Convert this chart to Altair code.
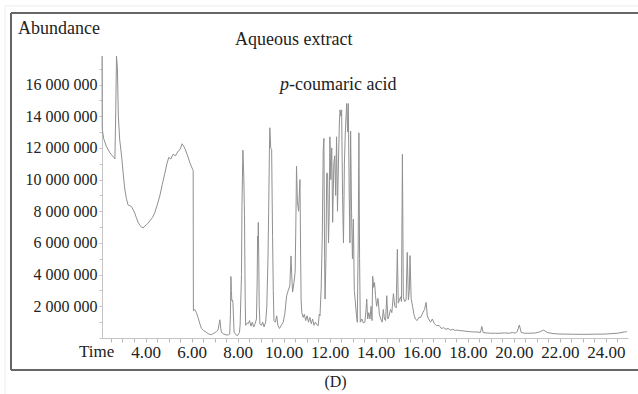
import altair as alt
import pandas as pd

# Retention time (min) and abundance (millions)
times = [2.11, 2.12, 2.18, 2.30, 2.45, 2.62, 2.67, 2.71, 2.74, 2.78, 2.82, 2.88, 2.96, 3.03, 3.10, 3.17,
         3.24, 3.32, 3.39, 3.46, 3.53, 3.60, 3.68, 3.76, 3.83, 3.90, 3.97, 4.08, 4.19, 4.30, 4.40, 4.51,
         4.62, 4.73, 4.84, 4.93, 5.01, 5.10, 5.20, 5.30, 5.42, 5.50, 5.59, 5.66, 5.73, 5.83, 5.93, 6.00,
         6.07, 6.08, 6.14, 6.21, 6.28, 6.36, 6.43, 6.54, 6.64, 6.75, 6.86, 6.97, 7.08, 7.15, 7.23, 7.27,
         7.30, 7.40, 7.51, 7.60, 7.66, 7.69, 7.71, 7.73, 7.75, 7.78, 7.80, 7.83, 7.85, 7.93, 8.00, 8.08,
         8.11, 8.17, 8.19, 8.23, 8.26, 8.27, 8.29, 8.30, 8.33, 8.35, 8.42, 8.46, 8.52, 8.58, 8.64, 8.70,
         8.76, 8.82, 8.85, 8.87, 8.89, 8.90, 8.92, 8.94, 8.97, 9.03, 9.09, 9.15, 9.22, 9.27, 9.32, 9.35,
         9.38, 9.40, 9.44, 9.48, 9.50, 9.52, 9.55, 9.58, 9.64, 9.70, 9.75, 9.82, 9.90, 9.98, 10.05, 10.13,
         10.20, 10.27, 10.32, 10.35, 10.39, 10.45, 10.50, 10.53, 10.56, 10.60, 10.65, 10.68, 10.71, 10.74,
         10.76, 10.79, 10.85, 10.90, 10.96, 11.02, 11.08, 11.14, 11.20, 11.26, 11.32, 11.38, 11.44, 11.50,
         11.55, 11.58, 11.63, 11.68, 11.72, 11.75, 11.78, 11.80, 11.84, 11.87, 11.91, 11.95, 11.98, 12.01,
         12.05, 12.09, 12.13, 12.18, 12.22, 12.26, 12.30, 12.34, 12.38, 12.42, 12.45, 12.49, 12.52, 12.56,
         12.60, 12.64, 12.68, 12.74, 12.78, 12.81, 12.85, 12.88, 12.91, 12.95, 12.99, 13.03, 13.07, 13.12,
         13.16, 13.20, 13.24, 13.27, 13.30, 13.33, 13.40, 13.46, 13.53, 13.58, 13.61, 13.65, 13.70, 13.75,
         13.80, 13.84, 13.87, 13.91, 13.95, 13.99, 14.04, 14.10, 14.16, 14.22, 14.28, 14.33, 14.38, 14.43,
         14.48, 14.53, 14.58, 14.64, 14.70, 14.77, 14.83, 14.89, 14.94, 14.98, 15.03, 15.08, 15.12, 15.16,
         15.20, 15.26, 15.32, 15.37, 15.42, 15.46, 15.49, 15.54, 15.60, 15.66, 15.72, 15.80, 15.88, 15.95,
         16.05, 16.12, 16.19, 16.24, 16.30, 16.38, 16.46, 16.55, 16.65, 16.75, 16.85, 16.95, 17.05, 17.15,
         17.25, 17.35, 17.45, 17.55, 17.67, 17.80, 17.95, 18.10, 18.25, 18.40, 18.55, 18.61, 18.67, 18.80,
         19.00, 19.20, 19.40, 19.60, 19.80, 19.95, 20.05, 20.15, 20.24, 20.32, 20.45, 20.70, 20.95, 21.15,
         21.29, 21.45, 21.70, 22.00, 22.50, 23.00, 23.50, 24.00, 24.50, 24.80, 24.91]

abundance_m = [17.8, 13.2, 12.6, 12.1, 11.7, 11.4, 11.3, 14.5, 17.8, 17.0, 14.0, 12.5, 11.5, 10.4, 9.4, 8.8,
               8.4, 8.35, 8.3, 8.1, 7.9, 7.6, 7.3, 7.1, 7.0, 6.95, 7.07, 7.2, 7.4, 7.6, 7.9, 8.4,
               8.96, 9.7, 10.4, 11.0, 11.4, 11.3, 11.6, 11.5, 11.8, 11.9, 12.26, 12.1, 11.9, 11.5, 11.06, 10.8,
               10.58, 1.72, 1.8, 1.6, 1.3, 0.9, 0.61, 0.45, 0.36, 0.25, 0.21, 0.3, 0.4, 0.5, 1.15, 0.6,
               0.36, 0.25, 0.19, 0.2, 0.25, 1.5, 3.88, 3.0, 2.35, 2.4, 2.2, 1.0, 0.36, 0.2, 0.15, 0.35,
               0.8, 4.0, 8.3, 11.86, 10.6, 10.2, 8.5, 7.8, 2.5, 0.8, 0.95, 0.9, 1.1, 0.75, 1.0, 0.7,
               0.9, 1.2, 3.5, 6.44, 6.0, 7.3, 5.0, 2.0, 0.9, 0.8, 1.0, 0.7, 1.0, 2.0, 5.0, 8.0,
               11.5, 13.27, 12.0, 11.9, 9.0, 6.4, 3.0, 1.1, 1.0, 1.4, 0.8, 0.6, 0.8, 1.0, 1.5, 2.66,
               3.0, 3.3, 5.18, 4.0, 2.9, 3.5, 4.15, 7.0, 10.85, 8.6, 8.0, 9.0, 10.0, 5.0,
               2.4, 1.6, 1.3, 1.5, 1.1, 1.4, 1.0, 1.3, 0.9, 1.2, 0.8, 1.0, 0.85, 0.77,
               1.5, 1.4, 3.1, 6.5, 11.9, 12.6, 5.0, 2.46, 5.0, 10.4, 10.4, 6.0, 8.0, 12.7,
               10.0, 12.0, 7.3, 11.0, 11.5, 9.0, 12.7, 8.0, 11.0, 13.5, 14.4, 14.0, 14.4, 9.0,
               6.0, 11.0, 13.0, 14.8, 13.0, 14.8, 9.0, 6.0, 13.06, 8.0, 5.0, 7.5, 3.0, 2.2,
               1.5, 0.99, 6.0, 12.95, 5.0, 1.0, 1.2, 0.95, 1.0, 1.8, 2.46, 1.2, 1.6, 1.2,
               2.0, 1.1, 3.9, 3.2, 3.5, 2.7, 2.0, 2.5, 1.5, 1.2, 1.0, 1.8, 1.2, 1.1,
               2.67, 1.2, 1.4, 1.8, 1.6, 2.8, 2.0, 1.9, 5.6, 2.2, 2.4, 2.6, 2.3, 11.6,
               2.6, 2.3, 2.4, 5.4, 2.4, 3.0, 5.2, 2.5, 2.0, 1.5, 1.2, 1.1, 1.3, 1.3,
               1.6, 1.8, 2.25, 1.4, 1.2, 1.0, 1.2, 0.9, 0.78, 0.8, 0.6, 0.65, 0.55, 0.6,
               0.5, 0.55, 0.48, 0.5, 0.46, 0.45, 0.42, 0.4, 0.38, 0.38, 0.35, 0.73, 0.35, 0.32,
               0.3, 0.3, 0.3, 0.32, 0.3, 0.35, 0.3, 0.4, 0.82, 0.35, 0.3, 0.3, 0.32, 0.4,
               0.5, 0.35, 0.28, 0.25, 0.24, 0.23, 0.24, 0.25, 0.3, 0.38, 0.4]

x_tick_values = [2.5, 3.0, 3.5, 4.0, 4.5, 5.0, 5.5, 6.0, 6.5, 7.0, 7.5, 8.0, 8.5, 9.0, 9.5, 10.0, 10.5,
                 11.0, 11.5, 12.0, 12.5, 13.0, 13.5, 14.0, 14.5, 15.0, 15.5, 16.0, 16.5, 17.0, 17.5,
                 18.0, 18.5, 19.0, 19.5, 20.0, 20.5, 21.0, 21.5, 22.0, 22.5, 23.0, 23.5, 24.0, 24.5]
y_tick_values = [0, 1e6, 2e6, 3e6, 4e6, 5e6, 6e6, 7e6, 8e6, 9e6, 10e6, 11e6, 12e6, 13e6, 14e6,
                 15e6, 16e6, 17e6]

y_label = "Abundance"
title_text = "Aqueous extract"
annot_italic = "p"
annot_rest = "-coumaric acid"
x_label = "Time"
panel_label = "(D)"

df = pd.DataFrame({"t": times, "v": [a * 1e6 for a in abundance_m]})

SERIF = "'Liberation Serif', 'Times New Roman', Times, serif"
TXT = "#222222"
W, H = 526, 282

line = alt.Chart(df).mark_line(color="#909090", strokeWidth=1, interpolate="linear").encode(
    x=alt.X("t:Q", scale=alt.Scale(domain=[2.11, 24.96], nice=False, zero=False),
            axis=alt.Axis(values=x_tick_values, title=None,
                          labelExpr="datum.value % 2 == 0 ? format(datum.value, '.2f') : ''",
                          labelFont=SERIF, labelFontSize=17, labelColor=TXT, labelPadding=2,
                          tickSize=4, tickColor="#b8b8b8", domainColor="#c4c4c4", grid=False,
                          labelFlush=False, labelOverlap=False)),
    y=alt.Y("v:Q", scale=alt.Scale(domain=[0, 17.8e6], nice=False),
            axis=alt.Axis(values=y_tick_values, title=None,
                          labelExpr="datum.value > 0 && datum.value % 2000000 == 0 ? replace(replace(format(datum.value, ','), ',', ' '), ',', ' ') : ''",
                          labelFont=SERIF, labelFontSize=16, labelColor=TXT, labelPadding=2,
                          tickSize=3, tickColor="#c4c4c4", domainColor="#c4c4c4", grid=False,
                          labelOverlap=False)),
)


def label(text, x, y, size=18, style="normal", align="left"):
    return alt.Chart(pd.DataFrame({"s": [text]})).mark_text(
        font=SERIF, fontSize=size, fontStyle=style, color=TXT, align=align, baseline="middle"
    ).encode(x=alt.value(x), y=alt.value(y), text="s:N")


def rule(x, y, x2=None, y2=None, color="#666666", width=2):
    enc = dict(x=alt.value(x), y=alt.value(y))
    if x2 is not None:
        enc["x2"] = alt.value(x2)
    if y2 is not None:
        enc["y2"] = alt.value(y2)
    return alt.Chart(pd.DataFrame({"k": [0]})).mark_rule(color=color, strokeWidth=width).encode(**enc)


layers = [
    rule(-97, -50, x2=536, color="#ececec", width=1),
    rule(-97, -50, y2=338, color="#ececec", width=1),
    rule(-91, -43, x2=536),
    rule(-91, -43, y2=314),
    rule(-91, 314, x2=536),
    line,
    label(y_label, -84, -27),
    label(title_text, 133, -16),
    label(annot_italic, 178, 29, style="italic"),
    label(annot_rest, 187, 29),
    label(x_label, -23, 296, size=17),
    label(panel_label, 233.5, 326, size=16, align="center"),
]

chart = alt.layer(*layers).properties(
    width=W, height=H,
    autosize=alt.AutoSizeParams(type="none"),
    padding={"left": 102, "top": 56, "right": 10, "bottom": 56},
    background="white",
).configure_view(stroke=None).configure_axis(labelFont=SERIF).configure_text(font=SERIF)

chart.save("out.html", embed_options={"renderer": "svg", "actions": False})
